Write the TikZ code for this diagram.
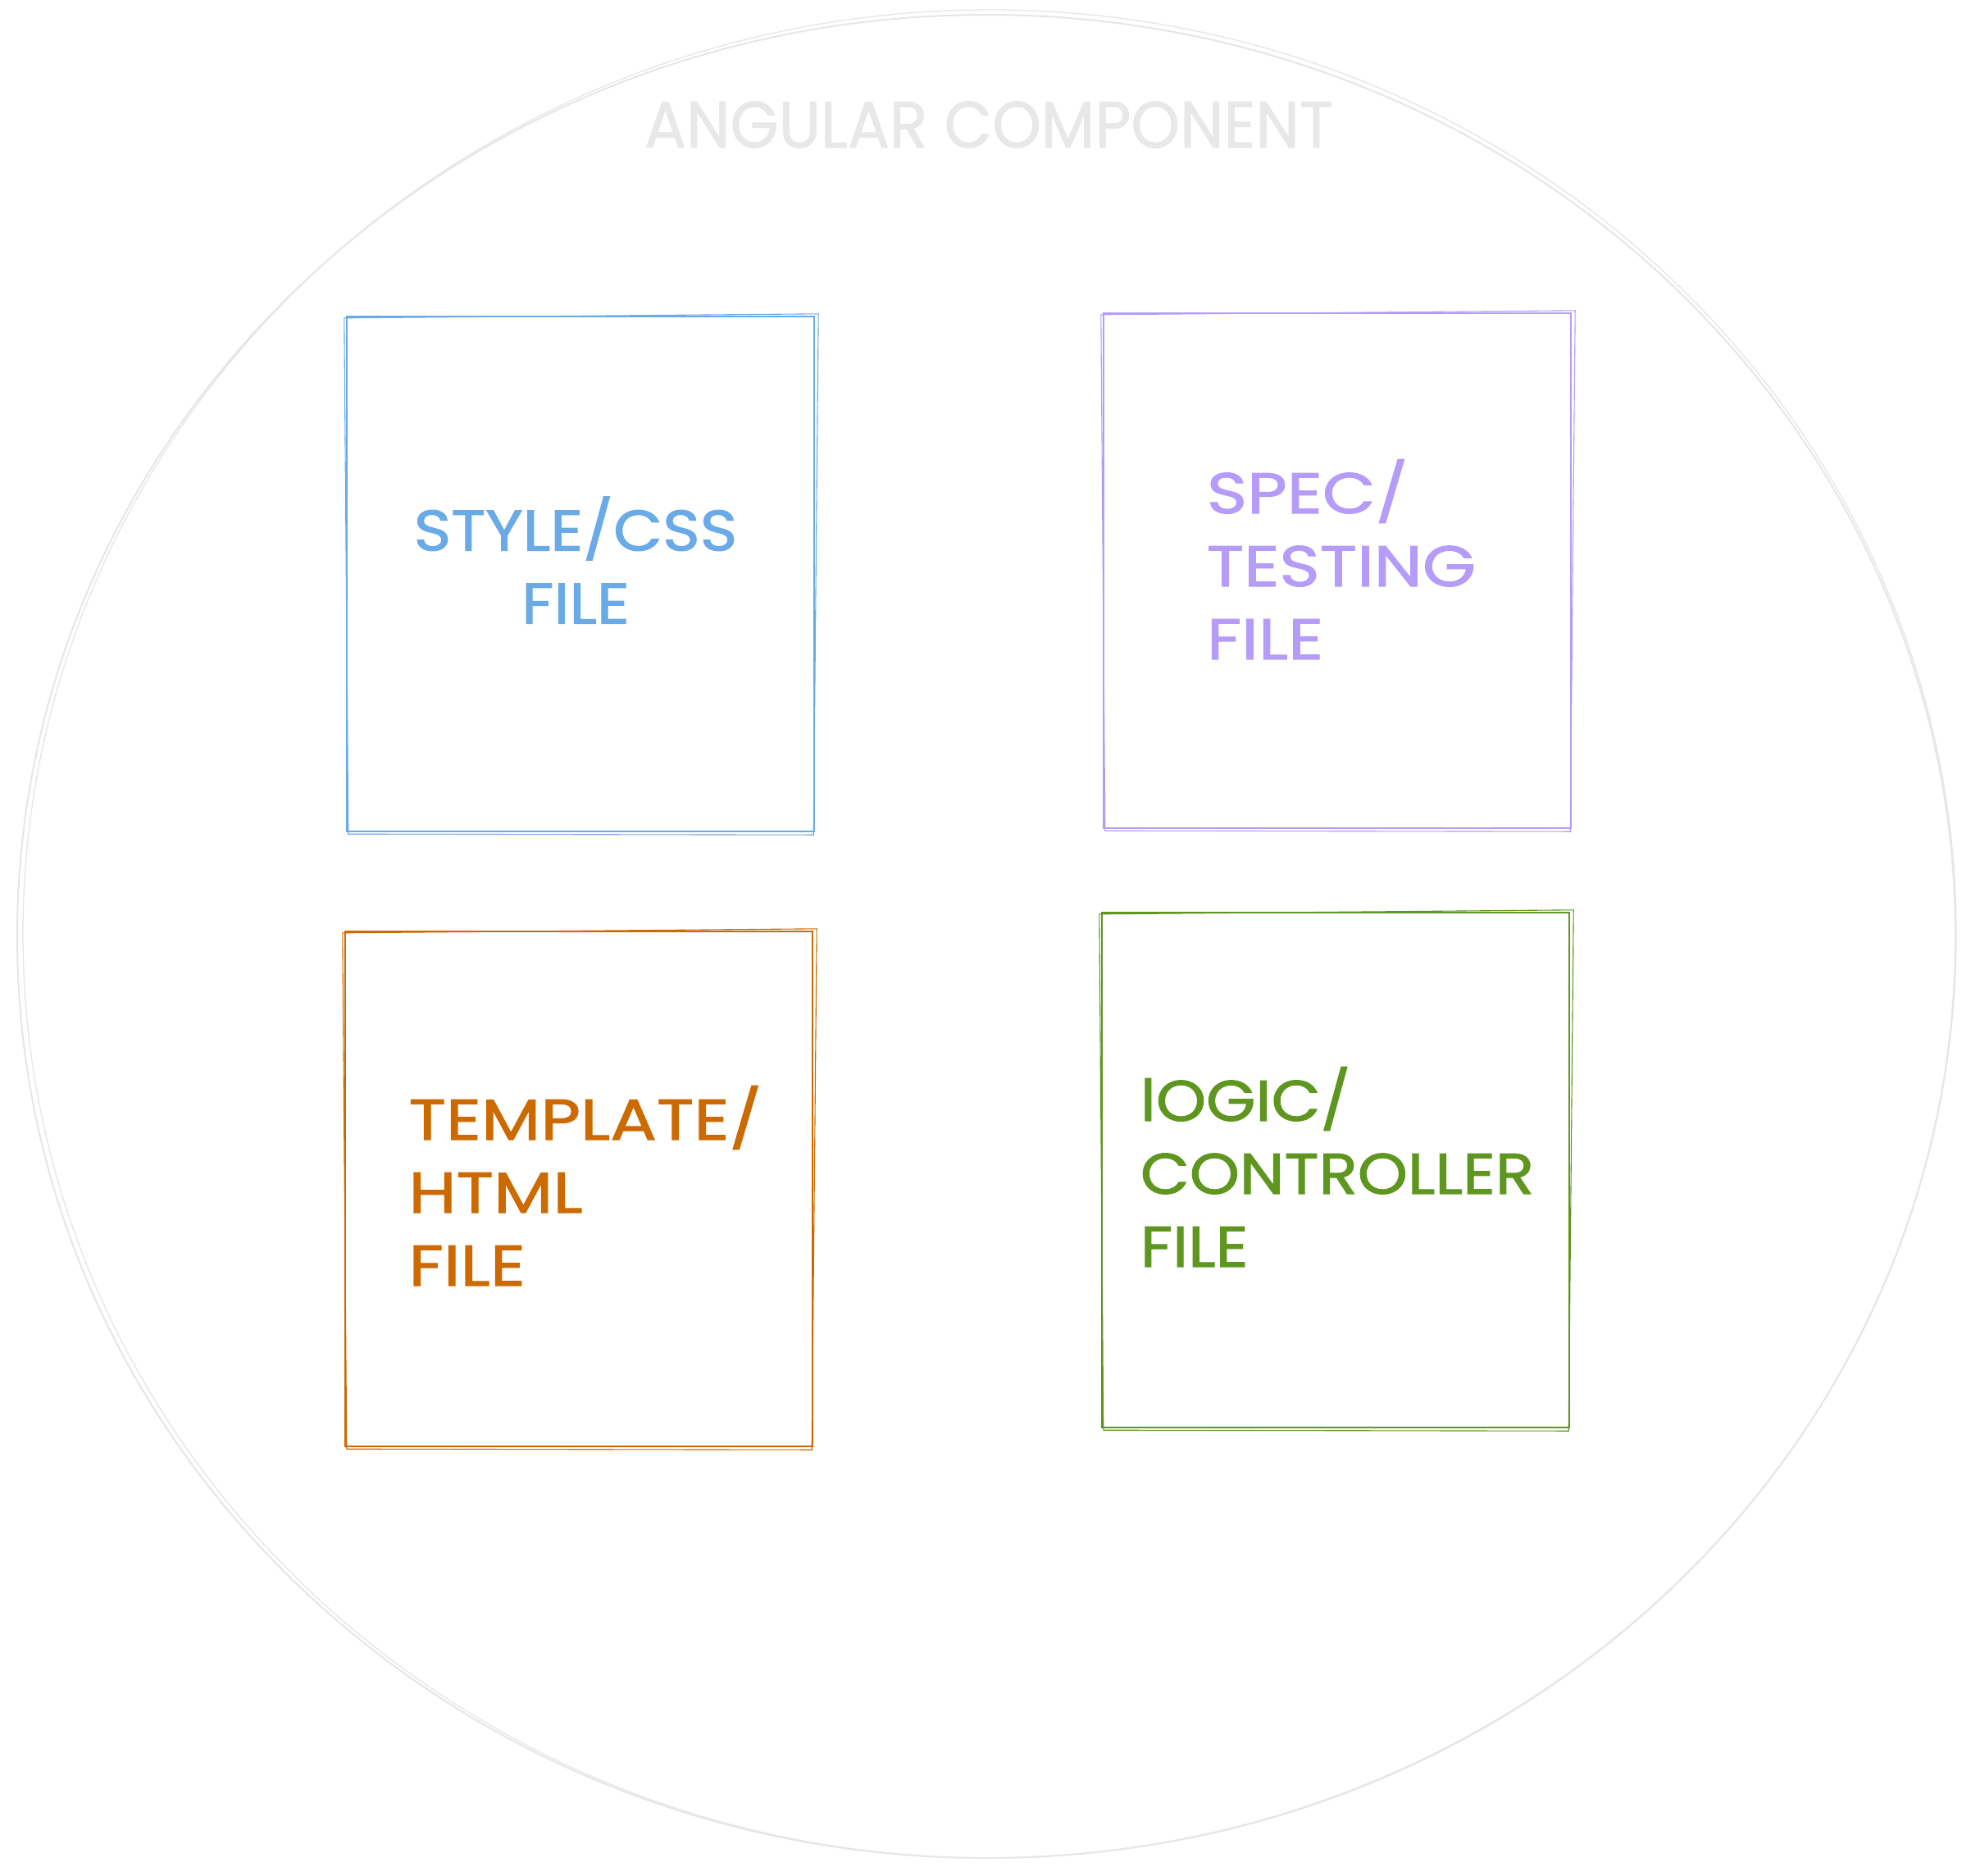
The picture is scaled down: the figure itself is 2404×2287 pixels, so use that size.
\documentclass[tikz,border=0pt]{standalone}
\usepackage{fontspec}
\setmainfont{Poppins}
\newfontfamily\handfont[FakeStretch=1.2,FakeBold=1.5]{Poppins}
\newfontfamily\handfontnarrow[FakeStretch=1.11,FakeBold=1.5]{Poppins}
\newfontfamily\titlefont[FakeStretch=0.95,FakeBold=1]{Poppins}
\usetikzlibrary{shapes.geometric,calc}
\definecolor{cblue}{HTML}{6AAAE6}
\definecolor{cpurple}{HTML}{B49CF8}
\definecolor{corange}{HTML}{CC6A00}
\definecolor{cgreen}{HTML}{5E9620}
\definecolor{cgray}{HTML}{E6E6E6}
\definecolor{ctitle}{HTML}{E8E8E8}
\tikzset{
  filebox/.style={draw, line width=2.4pt, minimum width=570pt, minimum height=628pt, inner sep=0pt},
  filetext/.style={inner sep=0pt, font=\handfont\fontsize{70}{89}\selectfont},
  filetextn/.style={inner sep=0pt, font=\handfontnarrow\fontsize{70}{89}\selectfont},
  sketch/.style={line width=1.1pt},
}
\begin{document}
\begin{tikzpicture}[x=1pt,y=-1pt]
\useasboundingbox (0,0) rectangle (2404,2287);
\fill[white] (0,0) rectangle (2404,2287);
% outer component ellipse
\node[ellipse, draw=cgray, line width=2pt, minimum width=2364pt, minimum height=2248pt] (comp) at (1203,1142) {};
\draw[cgray, line width=1.3pt] (1207,1139) ellipse [x radius=1179, y radius=1127];
\node[text=ctitle, font=\titlefont\fontsize{80}{90}\selectfont, inner sep=0pt] (title) at (1206,152) {ANGULAR COMPONENT};
% boxes
\node[filebox, draw=cblue] (css) at (708,700) {};
\node[filebox, draw=cpurple] (spec) at (1631,696) {};
\node[filebox, draw=corange] (html) at (706,1450) {};
\node[filebox, draw=cgreen] (logic) at (1629,1427) {};
% texts
\node[filetextn, text=cblue, align=center] (css-t) at ($(css.center)+(-6,-17)$) {STYLE/CSS\\FILE};
\node[filetext, text=cpurple, align=left] (spec-t) at ($(spec.center)+(5,-14)$) {SPEC/\\TESTING\\FILE};
\node[filetext, text=corange, align=left] (html-t) at ($(html.center)+(8,-4)$) {TEMPLATE/\\HTML\\FILE};
\node[filetextn, text=cgreen, align=left] (logic-t) at ($(logic.center)+(2,-4)$) {lOGIC/\\CONTROLLER\\FILE};
% sketchy second strokes
\foreach \n/\c in {css/cblue,spec/cpurple,html/corange,logic/cgreen}{
  \draw[\c, sketch] ($(\n.north west)+(-2,3)$) -- ($(\n.north east)+(4,-2)$) -- ($(\n.south east)+(-2,3)$) -- ($(\n.south west)+(3,2)$) -- cycle;
}
\end{tikzpicture}
\end{document}
